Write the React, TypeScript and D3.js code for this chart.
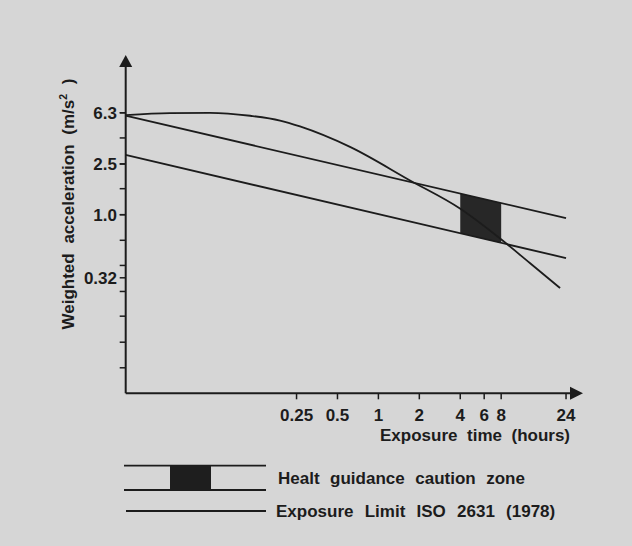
import React from "react";
import * as d3 from "d3";

// ---- data ----
const xTickValues = [0.25, 0.5, 1, 2, 4, 6, 8, 24];
const xTickLabels = ["0.25", "0.5", "1", "2", "4", "6", "8", "24"];
const yMinorTicks = [6.3, 4.0, 2.5, 1.6, 1.0, 0.63, 0.4, 0.25, 0.16, 0.1, 0.063];
const yLabelValues = [6.3, 2.5, 1.0, 0.32];
const yLabelTexts = ["6.3", "2.5", "1.0", "0.32"];

// straight exposure lines (hours, m/s^2)
const limitTimes = [0.0138, 24];
const upperLimit = [5.98, 0.94];
const lowerLimit = [2.94, 0.457];

// ISO 2631 (1978) exposure limit curve
const isoTimes = [0.0138, 0.0293, 0.0577, 0.114, 0.189, 0.265, 0.618, 1.71, 3.98, 8.11, 13.0, 21.7];
const isoValues = [6.05, 6.25, 6.3, 5.97, 5.48, 4.92, 3.4, 1.855, 1.118, 0.633, 0.418, 0.266];

// heat guidance caution zone (hours)
const zoneTimes = [4, 8];

const legendLabels = ["Healt guidance caution zone", "Exposure Limit ISO 2631 (1978)"];

const W = 632;
const H = 546;
const INK = "#1c1c1c";
const FONT = "'Liberation Sans', Arial, Helvetica, sans-serif";
const FS = 17;

function logInterp(times: number[], vals: number[], t: number) {
  const lt = times.map(Math.log);
  const lv = vals.map(Math.log);
  const f = (Math.log(t) - lt[0]) / (lt[1] - lt[0]);
  return Math.exp(lv[0] + f * (lv[1] - lv[0]));
}

export default function App() {
  const x = d3.scaleLog().domain([1, 16]).range([378.4, 542.1]);
  const y = d3.scaleLog().domain([0.1, 10]).range([342.2, 87.2]);

  const axisX0 = 125.7;
  const axisY0 = 393.3;
  const xEnd = 583;
  const yEnd = 55;

  const line = d3
    .line<[number, number]>()
    .x((d) => x(d[0]))
    .y((d) => y(d[1]));
  const curve = d3
    .line<[number, number]>()
    .x((d) => x(d[0]))
    .y((d) => y(d[1]))
    .curve(d3.curveMonotoneX);

  const upperPts = limitTimes.map((t, i) => [t, upperLimit[i]] as [number, number]);
  const lowerPts = limitTimes.map((t, i) => [t, lowerLimit[i]] as [number, number]);
  const isoPts = isoTimes.map((t, i) => [t, isoValues[i]] as [number, number]);

  const zonePoly: [number, number][] = [
    [zoneTimes[0], logInterp(limitTimes, upperLimit, zoneTimes[0])],
    [zoneTimes[1], logInterp(limitTimes, upperLimit, zoneTimes[1])],
    [zoneTimes[1], logInterp(limitTimes, lowerLimit, zoneTimes[1])],
    [zoneTimes[0], logInterp(limitTimes, lowerLimit, zoneTimes[0])],
  ];
  const zonePath =
    "M" + zonePoly.map((p) => `${x(p[0])},${y(p[1])}`).join("L") + "Z";

  return (
    <svg
      width={W}
      height={H}
      viewBox={`0 0 ${W} ${H}`}
      style={{ position: "fixed", left: 0, top: 0 }}
      fontFamily={FONT}
      fontWeight="bold"
    >
      <rect x={0} y={0} width={W} height={H} fill="#d6d6d6" />

      {/* caution zone */}
      <path d={zonePath} fill="#272727" />

      {/* lines */}
      <path d={line(upperPts) || ""} fill="none" stroke={INK} strokeWidth={1.8} />
      <path d={line(lowerPts) || ""} fill="none" stroke={INK} strokeWidth={1.8} />
      <path d={curve(isoPts) || ""} fill="none" stroke={INK} strokeWidth={1.8} />

      {/* axes */}
      <line x1={axisX0} y1={axisY0} x2={xEnd - 10} y2={axisY0} stroke={INK} strokeWidth={2} />
      <line x1={axisX0} y1={axisY0} x2={axisX0} y2={yEnd + 10} stroke={INK} strokeWidth={2} />
      <path
        d={`M${xEnd},${axisY0} L${xEnd - 13},${axisY0 - 6.5} L${xEnd - 13},${axisY0 + 6.5} Z`}
        fill={INK}
      />
      <path
        d={`M${axisX0},${yEnd} L${axisX0 - 6.5},${yEnd + 12} L${axisX0 + 6.5},${yEnd + 12} Z`}
        fill={INK}
      />

      {/* y ticks */}
      {yMinorTicks.map((v, i) => (
        <line key={"ym" + i} x1={axisX0 - 6} x2={axisX0} y1={y(v)} y2={y(v)} stroke={INK} strokeWidth={1.5} />
      ))}
      {yLabelValues.map((v, i) => (
        <g key={"yl" + i}>
          <line x1={axisX0 - 6} x2={axisX0} y1={y(v)} y2={y(v)} stroke={INK} strokeWidth={1.5} />
          <text x={117} y={y(v)} dy="0.36em" textAnchor="end" fontSize={FS} fill={INK}>
            {yLabelTexts[i]}
          </text>
        </g>
      ))}

      {/* x ticks */}
      {xTickValues.map((v, i) => (
        <g key={"xt" + i}>
          <line x1={x(v)} x2={x(v)} y1={axisY0} y2={axisY0 + 6} stroke={INK} strokeWidth={1.5} />
          <text x={x(v)} y={420.5} textAnchor="middle" fontSize={FS} fill={INK}>
            {xTickLabels[i]}
          </text>
        </g>
      ))}

      {/* axis titles */}
      <text x={380} y={440.5} fontSize={FS} fill={INK} wordSpacing={4.8}>
        Exposure time (hours)
      </text>
      <text
        transform={`translate(73.5,${204}) rotate(-90)`}
        textAnchor="middle"
        fontSize={FS}
        fill={INK}
        wordSpacing={5}
      >
        Weighted acceleration (m/s
        <tspan fontSize={10.5} dy={-7}>2</tspan>
        <tspan dy={7}> )</tspan>
      </text>

      {/* legend */}
      <line x1={124} x2={266} y1={465.7} y2={465.7} stroke={INK} strokeWidth={1.8} />
      <line x1={124} x2={266} y1={490} y2={490} stroke={INK} strokeWidth={1.8} />
      <rect x={170} y={465.7} width={41} height={24.3} fill="#1e1e1e" />
      <line x1={126} x2={266} y1={511} y2={511} stroke={INK} strokeWidth={1.8} />
      <text x={278} y={484.3} fontSize={FS} fill={INK} wordSpacing={5.8}>
        {legendLabels[0]}
      </text>
      <text x={276} y={516.5} fontSize={FS} fill={INK} wordSpacing={6.5}>
        {legendLabels[1]}
      </text>
    </svg>
  );
}
